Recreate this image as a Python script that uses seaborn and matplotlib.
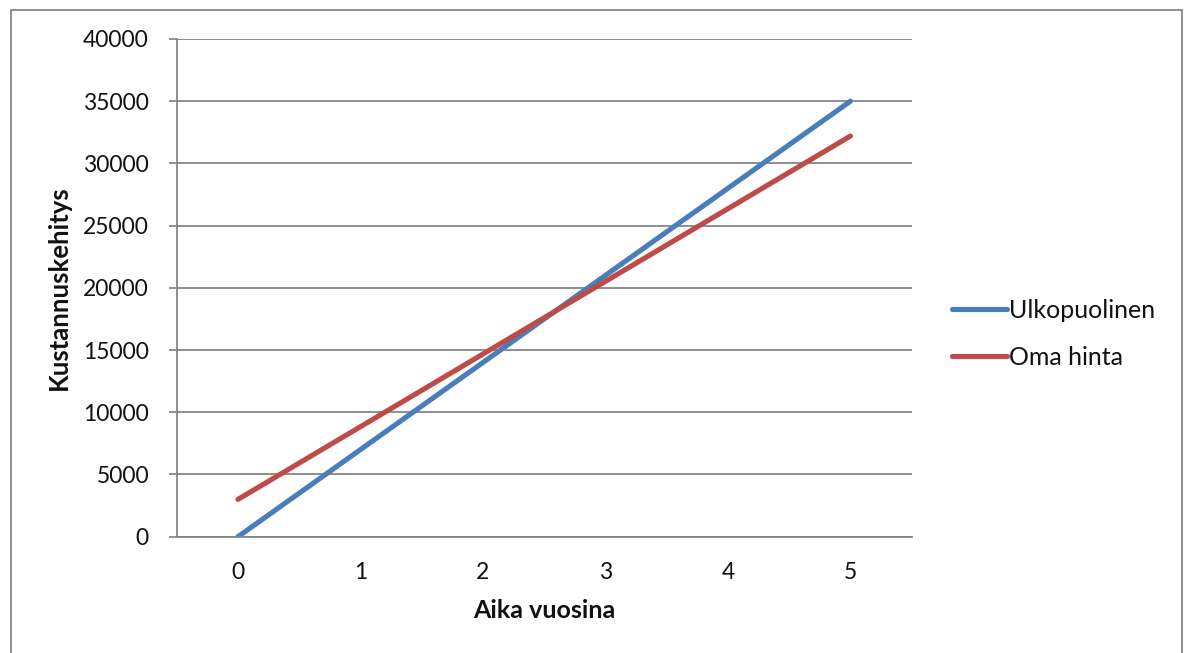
import matplotlib
matplotlib.use("Agg")
import matplotlib.pyplot as plt
import seaborn as sns
import pandas as pd
from matplotlib.patches import Rectangle

# Cost development over five years
vuodet = [0, 1, 2, 3, 4, 5]
ulkopuolinen = [0, 7000, 14000, 21000, 28000, 35000]
oma_hinta = [3000, 8840, 14680, 20520, 26360, 32200]
sarjat = ["Ulkopuolinen", "Oma hinta"]
y_ticks = [0, 5000, 10000, 15000, 20000, 25000, 30000, 35000, 40000]

df = pd.DataFrame({
    "Aika vuosina": vuodet * 2,
    "Kustannuskehitys": ulkopuolinen + oma_hinta,
    "Sarja": [sarjat[0]] * len(vuodet) + [sarjat[1]] * len(vuodet),
})

sns.set_theme(style="white")
plt.rcParams["font.family"] = ["Lato", "DejaVu Sans"]

grid_col = "#868686"
fig = plt.figure(figsize=(11.86, 6.53), dpi=100)
ax = fig.add_axes([0.149, 0.1781, 0.6197, 0.7622])

sns.lineplot(data=df, x="Aika vuosina", y="Kustannuskehitys", hue="Sarja",
             palette={"Ulkopuolinen": "#4A7EBB", "Oma hinta": "#BE4B48"},
             linewidth=3.7, solid_capstyle="round", ax=ax, legend=False)

ax.set_xlim(-0.5, 5.5)
ax.set_ylim(0, 40000)
ax.set_xticks(vuodet)
ax.set_xticklabels([str(v) for v in vuodet])
ax.set_yticks(y_ticks)
ax.set_yticklabels([str(v) for v in y_ticks])
ax.yaxis.grid(True, color=grid_col, linewidth=1.3)
ax.set_axisbelow(True)
for side in ["top", "right"]:
    ax.spines[side].set_visible(False)
for side in ["left", "bottom"]:
    ax.spines[side].set_color(grid_col)
    ax.spines[side].set_linewidth(1.3)

ax.tick_params(axis="y", length=6, width=1.3, color=grid_col, direction="out",
               pad=14, labelsize=16.5, left=True, labelcolor="#111111")
ax.tick_params(axis="x", length=0, pad=18, labelsize=16.5, labelcolor="#111111")
ax.set_xlabel("Aika vuosina", fontsize=18, fontweight="bold", labelpad=12,
              color="#111111")
ax.set_ylabel("Kustannuskehitys", fontsize=18.5, fontweight="bold", labelpad=9,
              color="#111111")

ax.legend(handles=ax.get_lines()[:2], labels=sarjat, loc="center left",
          bbox_to_anchor=(952 / 1186, 1 - 334 / 653), bbox_transform=fig.transFigure,
          frameon=False, fontsize=18, handlelength=2.2, handletextpad=0.08,
          labelspacing=0.95, borderpad=0, borderaxespad=0, labelcolor="#111111")

fig.patches.append(Rectangle((11 / 1186, -0.05), (1182 - 11) / 1186, 1.05 - 10 / 653,
                             transform=fig.transFigure, fill=False,
                             edgecolor=grid_col, linewidth=1.3))

fig.savefig("out.png", dpi=100)
